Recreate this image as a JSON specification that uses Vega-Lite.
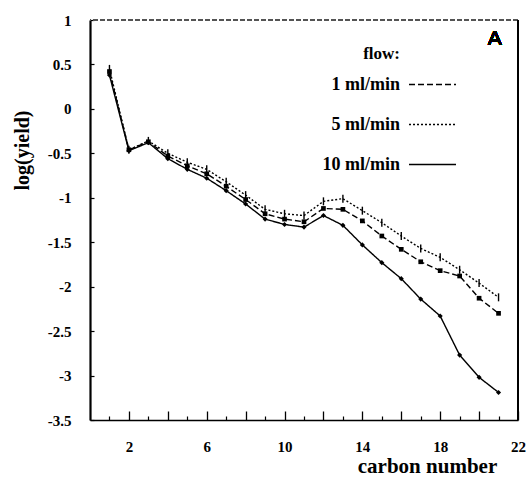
{
  "$schema": "https://vega.github.io/schema/vega-lite/v6.json",
  "width": 428,
  "height": 400,
  "autosize": {"type": "none"},
  "padding": {"left": 90, "top": 20, "right": 14, "bottom": 62},
  "config": {
    "view": {"stroke": null},
    "font": "Liberation Serif",
    "axis": {"labelFont": "Liberation Serif", "titleFont": "Liberation Serif", "labelColor": "black", "titleColor": "black", "domainColor": "black", "tickColor": "black", "grid": false}
  },
  "data": {
    "values": [
      {"c": 1, "flow": "1 ml/min", "y": 0.42},
      {"c": 2, "flow": "1 ml/min", "y": -0.46},
      {"c": 3, "flow": "1 ml/min", "y": -0.37},
      {"c": 4, "flow": "1 ml/min", "y": -0.53},
      {"c": 5, "flow": "1 ml/min", "y": -0.64},
      {"c": 6, "flow": "1 ml/min", "y": -0.73},
      {"c": 7, "flow": "1 ml/min", "y": -0.87},
      {"c": 8, "flow": "1 ml/min", "y": -1.02},
      {"c": 9, "flow": "1 ml/min", "y": -1.18},
      {"c": 10, "flow": "1 ml/min", "y": -1.24},
      {"c": 11, "flow": "1 ml/min", "y": -1.27},
      {"c": 12, "flow": "1 ml/min", "y": -1.12},
      {"c": 13, "flow": "1 ml/min", "y": -1.13},
      {"c": 14, "flow": "1 ml/min", "y": -1.26},
      {"c": 15, "flow": "1 ml/min", "y": -1.43},
      {"c": 16, "flow": "1 ml/min", "y": -1.58},
      {"c": 17, "flow": "1 ml/min", "y": -1.72},
      {"c": 18, "flow": "1 ml/min", "y": -1.82},
      {"c": 19, "flow": "1 ml/min", "y": -1.88},
      {"c": 20, "flow": "1 ml/min", "y": -2.13},
      {"c": 21, "flow": "1 ml/min", "y": -2.3},
      {"c": 1, "flow": "5 ml/min", "y": 0.45},
      {"c": 2, "flow": "5 ml/min", "y": -0.46},
      {"c": 3, "flow": "5 ml/min", "y": -0.36},
      {"c": 4, "flow": "5 ml/min", "y": -0.5},
      {"c": 5, "flow": "5 ml/min", "y": -0.6},
      {"c": 6, "flow": "5 ml/min", "y": -0.68},
      {"c": 7, "flow": "5 ml/min", "y": -0.82},
      {"c": 8, "flow": "5 ml/min", "y": -0.97},
      {"c": 9, "flow": "5 ml/min", "y": -1.13},
      {"c": 10, "flow": "5 ml/min", "y": -1.18},
      {"c": 11, "flow": "5 ml/min", "y": -1.2},
      {"c": 12, "flow": "5 ml/min", "y": -1.04},
      {"c": 13, "flow": "5 ml/min", "y": -1.01},
      {"c": 14, "flow": "5 ml/min", "y": -1.145},
      {"c": 15, "flow": "5 ml/min", "y": -1.28},
      {"c": 16, "flow": "5 ml/min", "y": -1.43},
      {"c": 17, "flow": "5 ml/min", "y": -1.57},
      {"c": 18, "flow": "5 ml/min", "y": -1.67},
      {"c": 19, "flow": "5 ml/min", "y": -1.81},
      {"c": 20, "flow": "5 ml/min", "y": -1.96},
      {"c": 21, "flow": "5 ml/min", "y": -2.12},
      {"c": 1, "flow": "10 ml/min", "y": 0.38},
      {"c": 2, "flow": "10 ml/min", "y": -0.47},
      {"c": 3, "flow": "10 ml/min", "y": -0.38},
      {"c": 4, "flow": "10 ml/min", "y": -0.56},
      {"c": 5, "flow": "10 ml/min", "y": -0.68},
      {"c": 6, "flow": "10 ml/min", "y": -0.78},
      {"c": 7, "flow": "10 ml/min", "y": -0.92},
      {"c": 8, "flow": "10 ml/min", "y": -1.07},
      {"c": 9, "flow": "10 ml/min", "y": -1.24},
      {"c": 10, "flow": "10 ml/min", "y": -1.3},
      {"c": 11, "flow": "10 ml/min", "y": -1.33},
      {"c": 12, "flow": "10 ml/min", "y": -1.2},
      {"c": 13, "flow": "10 ml/min", "y": -1.31},
      {"c": 14, "flow": "10 ml/min", "y": -1.53},
      {"c": 15, "flow": "10 ml/min", "y": -1.73},
      {"c": 16, "flow": "10 ml/min", "y": -1.91},
      {"c": 17, "flow": "10 ml/min", "y": -2.14},
      {"c": 18, "flow": "10 ml/min", "y": -2.33},
      {"c": 19, "flow": "10 ml/min", "y": -2.77},
      {"c": 20, "flow": "10 ml/min", "y": -3.02},
      {"c": 21, "flow": "10 ml/min", "y": -3.19}
    ]
  },
  "layer": [
    {
      "mark": {"type": "rule", "color": "#555555", "strokeDash": [5, 2], "strokeWidth": 1},
      "encoding": {"y": {"datum": 1}}
    },
    {
      "mark": {"type": "rule", "color": "black", "strokeWidth": 1.6},
      "encoding": {"x": {"datum": 22, "axis": null}}
    },
    {
      "mark": {"type": "line", "color": "black", "strokeWidth": 1.4},
      "encoding": {
        "x": {
          "field": "c",
          "type": "quantitative",
          "scale": {"domain": [0, 22], "nice": false, "zero": false},
          "axis": {
            "orient": "bottom",
            "title": "carbon number",
            "titleFontSize": 21,
            "titleFontWeight": "bold",
            "titleX": 337,
            "titleY": 52,
            "titleBaseline": "alphabetic",
            "values": [2, 4, 6, 8, 10, 12, 14, 16, 18, 20, 22],
            "labelExpr": "datum.value % 4 === 2 ? '' + datum.value : ''",
            "labelOverlap": false,
            "labelFlush": false,
            "labelFontSize": 15,
            "labelFontWeight": "bold",
            "labelPadding": 28,
            "tickSize": -9,
            "tickWidth": 1.3,
            "domainWidth": 1.6
          }
        },
        "y": {
          "field": "y",
          "type": "quantitative",
          "scale": {"domain": [-3.5, 1], "nice": false, "zero": false},
          "axis": {
            "title": "log(yield)",
            "titleFontSize": 20,
            "titleFontWeight": "bold",
            "titleAngle": -90,
            "titleX": -68,
            "titleY": 130,
            "titleAlign": "center",
            "titleBaseline": "middle",
            "values": [-3.5, -3.25, -3, -2.75, -2.5, -2.25, -2, -1.75, -1.5, -1.25, -1, -0.75, -0.5, -0.25, 0, 0.25, 0.5, 0.75, 1],
            "labelExpr": "datum.value % 0.5 === 0 ? '' + datum.value : ''",
            "labelOverlap": false,
            "labelFontSize": 15,
            "labelFontWeight": "bold",
            "labelPadding": 23,
            "tickSize": -4,
            "tickWidth": 1.2,
            "domainWidth": 2.2
          }
        },
        "strokeDash": {
          "field": "flow",
          "type": "nominal",
          "scale": {"domain": ["1 ml/min", "5 ml/min", "10 ml/min"], "range": [[6, 3], [2, 2], [1, 0]]},
          "legend": {
            "title": "flow:",
            "orient": "none",
            "legendX": 273,
            "legendY": 26,
            "titleFont": "Liberation Serif",
            "titleFontSize": 17,
            "titleFontWeight": "bold",
            "titleAlign": "right",
            "titlePadding": -3,
            "labelFont": "Liberation Serif",
            "labelFontSize": 18,
            "labelFontWeight": "bold",
            "labelColor": "black",
            "labelAlign": "right",
            "labelOffset": -57,
            "symbolOffset": 8,
            "symbolType": "stroke",
            "symbolSize": 2209,
            "symbolStrokeColor": "black",
            "symbolStrokeWidth": 1.4,
            "rowPadding": 6
          }
        }
      }
    },
    {
      "transform": [{"filter": "datum.flow === '1 ml/min'"}],
      "mark": {"type": "point", "shape": "square", "filled": true, "color": "black", "opacity": 1, "size": 22},
      "encoding": {
        "x": {
          "field": "c",
          "type": "quantitative",
          "axis": {
            "orient": "bottom",
            "title": null,
            "values": [1, 3, 5, 7, 9, 11, 13, 15, 17, 19, 21],
            "labels": false,
            "domain": false,
            "tickSize": -4,
            "tickWidth": 1.2
          }
        },
        "y": {"field": "y", "type": "quantitative"}
      }
    },
    {
      "transform": [{"filter": "datum.flow === '5 ml/min'"}],
      "mark": {"type": "point", "shape": "M-0.3,-1.7L0.3,-1.7L0.3,1.7L-0.3,1.7Z", "filled": true, "color": "black", "opacity": 1, "size": 22},
      "encoding": {
        "x": {"field": "c", "type": "quantitative", "axis": null},
        "y": {"field": "y", "type": "quantitative"}
      }
    },
    {
      "transform": [{"filter": "datum.flow === '10 ml/min'"}],
      "mark": {"type": "point", "shape": "diamond", "filled": true, "color": "black", "opacity": 1, "size": 26},
      "encoding": {
        "x": {"field": "c", "type": "quantitative", "axis": null},
        "y": {"field": "y", "type": "quantitative"}
      }
    },
    {
      "mark": {"type": "text", "font": "Liberation Sans", "fontSize": 21, "fontWeight": "normal", "color": "black"},
      "encoding": {"x": {"datum": 20.8, "axis": null}, "y": {"datum": 0.79}, "text": {"value": "A"}}
    }
  ],
  "resolve": {"axis": {"x": "independent"}}
}
